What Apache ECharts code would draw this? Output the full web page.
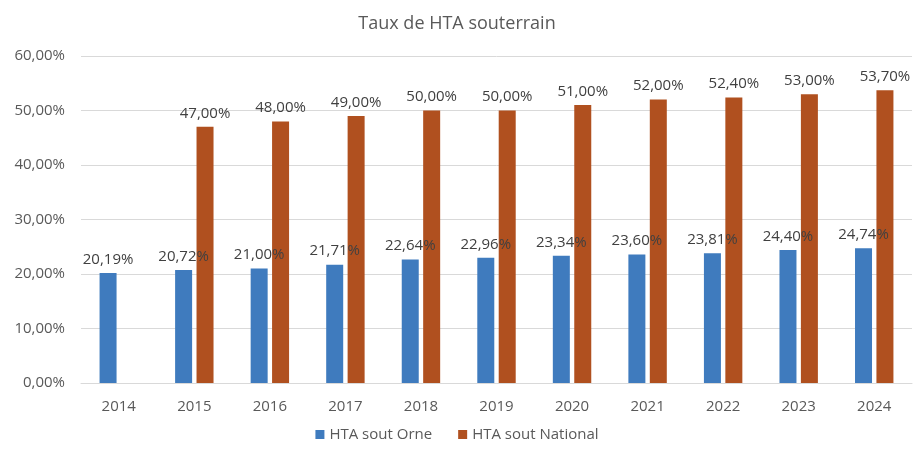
<!DOCTYPE html>
<html>
<head>
<meta charset="utf-8">
<script src="https://cdn.jsdelivr.net/npm/echarts@6/dist/echarts.min.js"></script>
<style>
  html, body { margin: 0; padding: 0; background: #fff; }
</style>
</head>
<body>
<div id="myChart" style="width: 914px; height: 450px;"></div>
<script>
// données
var annees = ['2014', '2015', '2016', '2017', '2018', '2019', '2020', '2021', '2022', '2023', '2024'];
var orne = [20.19, 20.72, 21.00, 21.71, 22.64, 22.96, 23.34, 23.60, 23.81, 24.40, 24.74];
var national = [null, 47.00, 48.00, 49.00, 50.00, 50.00, 51.00, 52.00, 52.40, 53.00, 53.70];
var nomsSeries = ['HTA sout Orne', 'HTA sout National'];

function pct(v) {
  return v.toFixed(2).replace('.', ',') + '%';
}

var police = '"Open Sans", "Liberation Sans", sans-serif';

var myChart = echarts.init(document.getElementById('myChart'));
myChart.setOption({
  animation: false,
  title: {
    text: 'Taux de HTA souterrain',
    left: 'center',
    top: 10,
    textStyle: { fontFamily: police, fontSize: 18, fontWeight: 'normal', color: '#595959' }
  },
  legend: {
    bottom: 3,
    left: 'center',
    itemWidth: 9,
    itemHeight: 9,
    itemGap: 26,
    icon: 'rect',
    textStyle: { fontFamily: police, fontSize: 15, color: '#595959' },
    data: nomsSeries
  },
  grid: { left: 81, right: 2, top: 56, bottom: 67, containLabel: false },
  xAxis: {
    type: 'category',
    data: annees,
    axisTick: { show: false },
    axisLine: { lineStyle: { color: '#D9D9D9', width: 1 } },
    axisLabel: { fontFamily: police, fontSize: 15, color: '#595959', margin: 16 }
  },
  yAxis: {
    type: 'value',
    min: 0,
    max: 60,
    interval: 10,
    axisLine: { show: false },
    axisTick: { show: false },
    splitLine: { lineStyle: { color: '#D9D9D9', width: 1 } },
    axisLabel: {
      fontFamily: police, fontSize: 15, color: '#595959', margin: 16,
      formatter: function (v) { return pct(v); }
    }
  },
  series: [
    {
      name: nomsSeries[0],
      type: 'bar',
      data: orne,
      barWidth: 17,
      barGap: '26%',
      itemStyle: { color: '#3F7BBE' },
      label: {
        show: true, position: 'top', distance: 6,
        fontFamily: police, fontSize: 15, color: '#404040',
        formatter: function (p) { return pct(p.value); }
      }
    },
    {
      name: nomsSeries[1],
      type: 'bar',
      data: national,
      barWidth: 17,
      itemStyle: { color: '#B0501F' },
      label: {
        show: true, position: 'top', distance: 6,
        fontFamily: police, fontSize: 15, color: '#404040',
        formatter: function (p) { return pct(p.value); }
      }
    }
  ]
});
</script>
</body>
</html>
